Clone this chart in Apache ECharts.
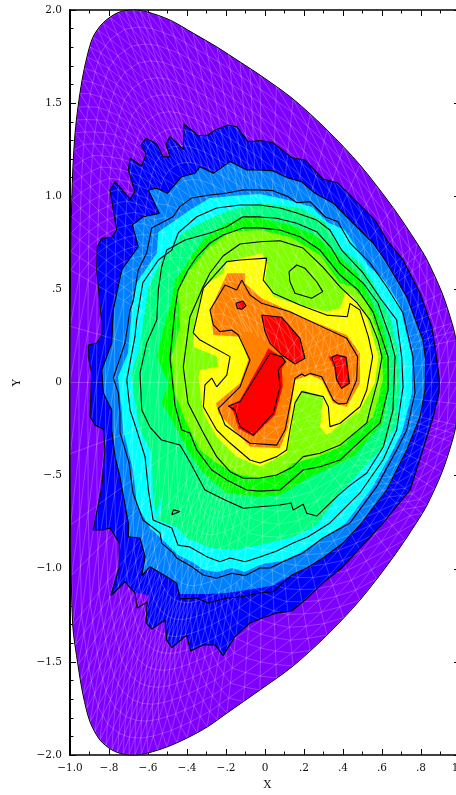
<!DOCTYPE html>
<html>
<head>
<meta charset="utf-8">
<style>html,body{margin:0;padding:0;background:#fff;overflow:hidden}#main{width:456px;height:795px}</style>
<script src="https://cdn.jsdelivr.net/npm/echarts@6/dist/echarts.min.js"></script>
</head>
<body>
<div id="main"></div>
<script>
var xTicks=[-1,-.8,-.6,-.4,-.2,0,.2,.4,.6,.8,1];
var yTicks=[-2,-1.5,-1,-.5,0,.5,1,1.5,2];

var boundary=[[-.677,2],[-.605,1.99],[-.487,1.946],[-.369,1.876],[-.246,1.801],[-.128,1.721],[-.026,1.651],[.144,1.522],[.318,1.356],[.487,1.168],[.656,.94],[.779,.749],[.831,.658],[.908,.481],[.959,.319],[.979,.228],[.99,0],[.979,-.228],[.959,-.319],[.908,-.481],[.831,-.658],[.779,-.749],[.656,-.94],[.487,-1.168],[.318,-1.356],[.144,-1.522],[-.026,-1.651],[-.195,-1.775],[-.297,-1.85],[-.4,-1.909],[-.503,-1.957],[-.6,-1.989],[-.667,-2],[-.728,-1.995],[-.785,-1.973],[-.846,-1.92],[-.897,-1.823],[-.933,-1.678],[-.959,-1.517],[-.986,-1.302],[-.997,-.765],[-1,0],[-.997,.604],[-.995,.803],[-.991,.98],[-.985,1.157],[-.974,1.34],[-.959,1.479],[-.938,1.624],[-.913,1.748],[-.882,1.855],[-.831,1.93],[-.754,1.986]];

// contour lines, outermost first
var line1=[[-.863,.604],[-.86,.729],[-.837,.774],[-.786,.78],[-.761,.819],[-.778,.926],[-.795,1.034],[-.769,1.078],[-.692,.984],[-.667,1.024],[-.701,1.141],[-.692,1.204],[-.632,1.162],[-.61,1.227],[-.636,1.274],[-.61,1.311],[-.555,1.281],[-.522,1.212],[-.487,1.212],[-.508,1.281],[-.487,1.32],[-.419,1.252],[-.415,1.388],[-.342,1.325],[-.291,1.329],[-.256,1.356],[-.188,1.383],[-.145,1.373],[-.086,1.293],[-.026,1.299],[.041,1.288],[.137,1.207],[.205,1.195],[.297,1.093],[.374,1.071],[.47,.971],[.564,.872],[.631,.756],[.708,.658],[.795,.481],[.855,.3],[.872,.192],[.894,.013],[.892,-.056],[.863,-.184],[.81,-.362],[.744,-.577],[.598,-.765],[.487,-.889],[.4,-.989],[.297,-1.077],[.205,-1.168],[.137,-1.227],[.06,-1.238],[-.026,-1.27],[-.077,-1.291],[-.154,-1.365],[-.215,-1.467],[-.256,-1.409],[-.318,-1.409],[-.381,-1.442],[-.402,-1.356],[-.478,-1.424],[-.504,-1.383],[-.513,-1.275],[-.581,-1.324],[-.61,-1.291],[-.604,-1.179],[-.655,-1.211],[-.667,-1.13],[-.718,-1.071],[-.791,-1.145],[-.747,-.989],[-.747,-.862],[-.795,-.781],[-.831,-.792],[-.881,-.792],[-.837,-.559],[-.821,-.362],[-.829,-.251],[-.872,-.228],[-.897,-.184],[-.889,.051],[-.906,.139],[-.906,.201],[-.863,.212],[-.837,.255],[-.837,.319]];
var line2=[[-.786,-.255],[-.786,-.148],[-.829,-.056],[-.837,.067],[-.786,.212],[-.778,.389],[-.735,.604],[-.65,.729],[-.68,.846],[-.624,.89],[-.542,.908],[-.598,1.034],[-.555,1.043],[-.501,1.016],[-.427,1.105],[-.359,1.123],[-.333,1.159],[-.265,1.123],[-.179,1.186],[-.094,1.141],[-.026,1.141],[.041,1.136],[.118,1.098],[.188,1.078],[.256,1.016],[.349,.964],[.451,.856],[.554,.749],[.615,.658],[.727,.461],[.81,.228],[.824,.121],[.821,-.04],[.795,-.184],[.727,-.362],[.624,-.577],[.487,-.765],[.4,-.862],[.297,-.942],[.214,-.996],[.137,-1.034],[.041,-1.123],[-.026,-1.13],[-.119,-1.15],[-.196,-1.157],[-.292,-1.184],[-.35,-1.157],[-.436,-1.162],[-.453,-1.077],[-.504,-1.043],[-.59,-.989],[-.632,-1.037],[-.615,-.935],[-.641,-.835],[-.701,-.828],[-.701,-.754],[-.744,-.506],[-.769,-.398]];
var line3=[[-.744,-.164],[-.752,-.056],[-.778,.024],[-.718,.212],[-.692,.389],[-.675,.443],[-.65,.604],[-.607,.695],[-.581,.83],[-.472,.89],[-.436,.944],[-.376,.991],[-.282,1.007],[-.196,1.017],[-.113,1.034],[-.026,1.034],[.041,1.03],[.118,.998],[.163,.965],[.231,.971],[.308,.89],[.374,.863],[.436,.749],[.538,.642],[.624,.514],[.708,.373],[.759,.137],[.769,-.056],[.727,-.255],[.675,-.362],[.573,-.559],[.436,-.754],[.297,-.835],[.195,-.915],[.092,-.962],[.026,-.996],[-.026,-.996],[-.103,-1.037],[-.171,-1.024],[-.248,-1.051],[-.316,-1.034],[-.376,-.989],[-.453,-.942],[-.472,-.915],[-.53,-.862],[-.538,-.808],[-.626,-.738],[-.677,-.593],[-.697,-.432],[-.744,-.266]];
var line4=[[-.709,.013],[-.667,.246],[-.658,.336],[-.627,.534],[-.547,.658],[-.478,.711],[-.445,.803],[-.35,.89],[-.248,.937],[-.128,.953],[-.026,.953],[.077,.937],[.163,.91],[.265,.872],[.333,.819],[.393,.711],[.503,.588],[.598,.443],[.675,.336],[.701,.137],[.708,-.023],[.675,-.255],[.605,-.416],[.487,-.593],[.333,-.754],[.221,-.828],[.144,-.862],[.06,-.905],[-.026,-.937],[-.103,-.962],[-.179,-.942],[-.231,-.962],[-.299,-.935],[-.385,-.883],[-.446,-.873],[-.478,-.781],[-.574,-.738],[-.598,-.577],[-.615,-.4],[-.658,-.255],[-.692,-.148]];
var line5=[[-.641,.051],[-.607,.212],[-.555,.336],[-.547,.497],[-.53,.62],[-.504,.711],[-.41,.765],[-.282,.803],[-.196,.836],[-.113,.89],[-.026,.889],[.06,.882],[.163,.855],[.265,.81],[.342,.72],[.385,.642],[.503,.534],[.579,.427],[.641,.244],[.667,.137],[.656,-.148],[.607,-.345],[.522,-.486],[.427,-.559],[.368,-.613],[.265,-.717],[.214,-.702],[.196,-.654],[.145,-.685],[.133,-.647],[.077,-.658],[-.026,-.667],[-.111,-.675],[-.205,-.631],[-.308,-.577],[-.385,-.427],[-.436,-.336],[-.53,-.309],[-.59,-.239],[-.632,-.148]];
var line6=[[-.487,.132],[-.462,.389],[-.446,.497],[-.395,.604],[-.35,.674],[-.282,.749],[-.215,.792],[-.113,.83],[-.026,.83],[.077,.819],[.179,.783],[.282,.711],[.385,.577],[.477,.497],[.554,.379],[.598,.244],[.631,.137],[.631,-.04],[.59,-.217],[.538,-.266],[.385,-.416],[.282,-.452],[.196,-.47],[.077,-.577],[-.026,-.583],[-.094,-.577],[-.196,-.523],[-.273,-.47],[-.35,-.362],[-.385,-.271],[-.427,-.255],[-.462,-.121]];
var line7=[[-.419,.083],[-.385,.352],[-.318,.513],[-.282,.588],[-.215,.679],[-.128,.744],[-.026,.756],[.077,.761],[.195,.722],[.297,.62],[.385,.513],[.472,.427],[.538,.336],[.579,.228],[.6,.137],[.579,.013],[.538,-.148],[.522,-.217],[.385,-.336],[.282,-.38],[.196,-.398],[.145,-.452],[.06,-.497],[-.026,-.513],[-.111,-.514],[-.179,-.479],[-.248,-.398],[-.316,-.271],[-.395,-.11]];
var line8=[[-.368,.266],[-.333,.427],[-.316,.507],[-.248,.588],[-.196,.649],[-.128,.658],[.009,.668],[-.009,.55],[.043,.479],[.179,.416],[.316,.362],[.422,.353],[.436,.425],[.487,.389],[.53,.246],[.552,.139],[.522,-.04],[.487,-.13],[.385,-.219],[.333,-.237],[.325,-.13],[.299,-.076],[.188,-.049],[.154,-.11],[.128,-.255],[.111,-.362],[.06,-.398],[-.026,-.432],[-.077,-.416],[-.179,-.325],[-.248,-.255],[-.316,-.13],[-.308,-.013],[-.273,.024],[-.248,-.023],[-.196,.04],[-.179,.139],[-.333,.228]];
var line9=[[-.119,.55],[-.077,.47],[-.017,.425],[.128,.38],[.291,.3],[.419,.237],[.475,.139],[.47,.013],[.419,-.112],[.376,-.115],[.35,-.094],[.291,.031],[.231,.049],[.205,.035],[.188,.046],[.154,.023],[.137,-.076],[.103,-.255],[.06,-.336],[-.077,-.326],[-.205,-.228],[-.239,-.139],[-.128,-.023],[-.077,.121],[-.137,.255],[-.171,.282],[-.231,.273],[-.265,.309],[-.282,.389],[-.256,.434],[-.205,.523],[-.145,.497]];
var lineIsland=[[.123,.595],[.163,.631],[.205,.613],[.265,.541],[.296,.488],[.239,.452],[.154,.479],[.128,.541]];
var lineSmall=[[-.478,-.71],[-.47,-.684],[-.436,-.693]];
var lineRedA=[[-.188,-.126],[-.128,-.103],[.026,.157],[.086,.139],[.103,.112],[.068,.067],[.077,-.023],[.043,-.165],[-.06,-.282],[-.128,-.237],[-.154,-.148]];
var lineRedB=[[-.017,.362],[.086,.35],[.179,.237],[.205,.13],[.154,.099],[.086,.148],[.026,.21],[0,.273]];
var lineRedC=[[.342,.135],[.368,.148],[.415,.135],[.432,-.004],[.393,-.031],[.368,.013],[.359,.085]];
var lineRedD=[[-.149,.425],[-.114,.438],[-.097,.412],[-.119,.393],[-.142,.398]];

// filled bands, they do not sit exactly on the lines
var fillPurplePatch=[[-.667,-1.125],[-.594,-1.145],[-.608,-1.284],[-.655,-1.211]];
var fillMid=[[-.786,-.255],[-.786,-.148],[-.829,-.056],[-.837,.067],[-.786,.212],[-.778,.389],[-.735,.604],[-.65,.729],[-.68,.846],[-.624,.89],[-.542,.908],[-.598,1.034],[-.555,1.043],[-.501,1.016],[-.427,1.105],[-.359,1.123],[-.333,1.159],[-.265,1.123],[-.179,1.186],[-.094,1.141],[-.026,1.141],[.041,1.136],[.118,1.098],[.188,1.078],[.256,1.016],[.349,.964],[.451,.856],[.554,.749],[.615,.658],[.727,.461],[.81,.228],[.824,.121],[.821,-.04],[.795,-.184],[.727,-.362],[.624,-.577],[.487,-.765],[.4,-.862],[.297,-.942],[.214,-.996],[.137,-1.034],[.041,-1.09],[-.026,-1.104],[-.196,-1.13],[-.292,-1.136],[-.436,-1.136],[-.453,-1.077],[-.504,-1.043],[-.59,-.989],[-.632,-1.037],[-.615,-.935],[-.641,-.835],[-.701,-.828],[-.701,-.754],[-.744,-.506],[-.769,-.398]];
var fillCyan=[[-.754,.03],[-.703,.158],[-.683,.389],[-.658,.534],[-.555,.695],[-.547,.808],[-.436,.889],[-.385,.926],[-.282,.991],[-.113,1.007],[-.026,1.012],[.118,.98],[.241,.942],[.318,.862],[.41,.819],[.528,.63],[.61,.55],[.69,.42],[.754,.137],[.754,-.056],[.703,-.266],[.651,-.373],[.549,-.566],[.415,-.754],[.282,-.846],[.179,-.915],[.087,-.958],[-.015,-.975],[-.103,-1.017],[-.169,-.996],[-.246,-1.017],[-.313,-1.007],[-.374,-.964],[-.446,-.926],[-.513,-.856],[-.59,-.781],[-.656,-.658],[-.677,-.47],[-.728,-.255],[-.735,-.148]];
var fillSpring=[[-.684,.051],[-.65,.158],[-.615,.389],[-.6,.497],[-.538,.647],[-.462,.738],[-.426,.803],[-.299,.872],[-.179,.926],[-.026,.964],[.179,.937],[.308,.862],[.385,.725],[.487,.642],[.554,.534],[.641,.352],[.682,.174],[.69,-.02],[.675,-.228],[.605,-.346],[.385,-.593],[.267,-.765],[.144,-.83],[-.026,-.872],[-.164,-.899],[-.282,-.889],[-.4,-.835],[-.453,-.776],[-.555,-.738],[-.574,-.615],[-.581,-.379],[-.641,-.255],[-.675,-.056]];
var fillGreen=[[-.504,.353],[-.477,.443],[-.462,.55],[-.421,.604],[-.374,.685],[-.308,.776],[-.205,.851],[-.128,.883],[-.026,.883],[.128,.846],[.256,.792],[.385,.674],[.472,.588],[.538,.459],[.605,.298],[.631,.174],[.636,-.013],[.605,-.217],[.451,-.4],[.231,-.507],[.077,-.604],[-.026,-.615],[-.196,-.593],[-.316,-.486],[-.376,-.398],[-.478,-.201],[-.53,-.11],[-.496,-.003],[-.555,.139]];
var fillLime=[[-.478,.137],[-.436,.298],[-.446,.497],[-.385,.604],[-.292,.722],[-.179,.808],[-.026,.819],[.128,.781],[.282,.685],[.385,.534],[.451,.513],[.523,.427],[.574,.282],[.6,.158],[.605,.013],[.554,-.185],[.385,-.346],[.267,-.4],[.144,-.432],[.077,-.497],[-.026,-.513],[-.128,-.497],[-.248,-.432],[-.333,-.362],[-.41,-.201],[-.462,-.056]];
var fillYellow=[[.393,.481],[.445,.47],[.522,.353],[.581,.139],[.564,-.003],[.487,-.148],[.316,-.282],[.282,-.239],[.299,-.083],[.195,-.04],[.154,-.094],[.137,-.237],[.111,-.379],[-.026,-.452],[-.145,-.398],[-.248,-.291],[-.316,-.164],[-.342,.031],[-.333,.067],[-.239,.085],[-.248,.139],[-.368,.192],[-.359,.336],[-.316,.514],[-.214,.588],[-.196,.649],[-.017,.694],[.012,.631],[0,.55],[.043,.461],[.179,.416],[.316,.38],[.385,.398],[.41,.47]];
var fillOrange=[[-.193,.586],[-.103,.586],[-.103,.533],[-.017,.452],[.205,.345],[.419,.255],[.487,.157],[.487,-.004],[.419,-.13],[.35,-.112],[.291,.013],[.231,.04],[.154,.013],[.119,-.237],[.077,-.353],[-.077,-.345],[-.239,-.165],[-.251,-.112],[-.128,-.004],[-.086,.121],[-.128,.246],[-.265,.255],[-.282,.389],[-.214,.541]];
var fillRedA=[[-.188,-.126],[-.128,-.094],[0,.148],[.017,.184],[.094,.13],[.111,.112],[.086,.076],[.091,-.023],[.051,-.174],[-.06,-.291],[-.137,-.246],[-.162,-.157]];
var fillRedC=[[.325,.139],[.342,.14],[.368,.152],[.42,.14],[.437,-.004],[.393,-.036],[.364,.013],[.352,.085]];
var fillCyanSliver=[[-.524,-.6],[-.564,-.72],[-.54,-.72]];
var fillCyanSpot=[[-.24,-.74],[-.225,-.735],[-.235,-.725]];

var cPurple='#8000ff',cBlue='#0000ff',cMid='#0080ff',cCyan='#00ffff',cSpring='#00ff80',cGreen='#00ff00',cLime='#80ff00',cYellow='#ffff00',cOrange='#ff8000',cRed='#ff0000';
var fills=[[boundary,cPurple],[line1,cBlue],[fillPurplePatch,cPurple],[fillMid,cMid],[fillCyan,cCyan],[fillSpring,cSpring],[fillCyanSliver,cCyan],[fillCyanSpot,cCyan],[fillGreen,cGreen],[fillLime,cLime],[fillYellow,cYellow],[fillOrange,cOrange],[fillRedA,cRed],[lineRedB,cRed],[fillRedC,cRed],[lineRedD,cRed]];
var contours=[line1,line2,line3,line4,line5,line6,line7,line8,line9,lineIsland,lineSmall,lineRedA,lineRedB,lineRedC,lineRedD];

// triangular mesh, rings shrunk from the boundary
var meshRings=22;
function build_mesh(){
	var spokes=[];
	for(var i=0;i<boundary.length;i++){
		var p=boundary[i],q=boundary[(i+1)%boundary.length];
		spokes.push(p);
		spokes.push([(p[0]+q[0])/2,(p[1]+q[1])/2]);
	}
	var n=spokes.length,out=[];
	function seg(a,b){out.push(a);out.push(b);out.push(['-','-']);}
	for(var r=0;r<meshRings-3;r++){
		var s=1-r/meshRings,t=1-(r+1)/meshRings;
		var step=s<.3?4:(s<.6?2:1);
		for(var j=0;j<n;j+=step){
			var k=(j+step)%n;
			var a=[spokes[j][0]*s,spokes[j][1]*s],b=[spokes[k][0]*s,spokes[k][1]*s];
			var c=[spokes[j][0]*t,spokes[j][1]*t],d=[spokes[k][0]*t,spokes[k][1]*t];
			seg(a,b);
			seg(a,c);
			seg(a,d);
		}
	}
	return out;
}

function tick_label(v){
	if(Math.abs(v)<1e-9) return '0';
	var txt;
	if(Math.abs(v)<1) txt=Math.abs(v).toFixed(1).substr(1);
	else txt=Math.abs(v).toFixed(1);
	return (v<0?'\u2212':'')+txt;
}

var myChart=echarts.init(document.getElementById('main'),null,{renderer:'canvas'});
var labelFont={fontFamily:'DejaVu Serif',fontSize:10.5,color:'#111'};

var series=[{
	type:'custom',
	coordinateSystem:'cartesian2d',
	silent:true,
	clip:false,
	z:1,
	data:fills.map(function(f,i){return [i];}),
	renderItem:function(params,api){
		var f=fills[params.dataIndex];
		return {
			type:'polygon',
			shape:{points:f[0].map(function(p){return api.coord(p);}),smooth:params.dataIndex==0?.3:0},
			style:{fill:f[1]}
		};
	}
},{
	type:'line',
	data:build_mesh(),
	showSymbol:false,
	silent:true,
	z:2,
	connectNulls:false,
	lineStyle:{color:'#fff',width:.8,opacity:.28}
},{
	// outer edge, drawn on top of the mesh
	type:'custom',
	coordinateSystem:'cartesian2d',
	silent:true,
	clip:false,
	z:3,
	data:[[0]],
	renderItem:function(params,api){
		return {
			type:'polygon',
			shape:{points:boundary.map(function(p){return api.coord(p);}),smooth:.3},
			style:{fill:'none',stroke:'#000',lineWidth:1}
		};
	}
}];
contours.forEach(function(c){
	series.push({
		type:'line',
		data:c.concat([c[0]]),
		showSymbol:false,
		silent:true,
		z:3,
		lineStyle:{color:'#000',width:1.1}
	});
});

function x_axis(pos,show){
	return {
		type:'value',position:pos,min:-1,max:1,interval:.2,
		splitLine:{show:false},
		name:show?'X':'',nameLocation:'middle',nameGap:25,
		nameTextStyle:{fontFamily:'DejaVu Serif',fontSize:11,color:'#111',padding:[0,0,0,5]},
		axisLine:{show:true,onZero:false,lineStyle:{color:'#000',width:1.5}},
		axisTick:{show:true,inside:true,length:6,lineStyle:{color:'#000'}},
		minorTick:{show:true,splitNumber:2,length:3.5,lineStyle:{color:'#000'}},
		axisLabel:Object.assign({show:show,formatter:tick_label,margin:8,showMinLabel:true,showMaxLabel:true,hideOverlap:false},labelFont)
	};
}
function y_axis(pos,show){
	return {
		type:'value',position:pos,min:-2,max:2,interval:.5,
		splitLine:{show:false},
		name:show?'Y':'',nameLocation:'middle',nameGap:47,nameRotate:90,
		nameTextStyle:{fontFamily:'DejaVu Serif',fontSize:11,color:'#111'},
		axisLine:{show:true,onZero:false,lineStyle:{color:'#000',width:show?2:1.5}},
		axisTick:{show:true,inside:true,length:6,lineStyle:{color:'#000'}},
		minorTick:{show:true,splitNumber:5,length:3.5,lineStyle:{color:'#000'}},
		axisLabel:Object.assign({show:show,formatter:tick_label,margin:8,showMinLabel:true,showMaxLabel:true,hideOverlap:false},labelFont)
	};
}

myChart.setOption({
	animation:false,
	backgroundColor:'#fff',
	grid:{left:70,top:10,width:390,height:745,containLabel:false,outerBoundsMode:'none'},
	xAxis:[x_axis('bottom',true),x_axis('top',false)],
	yAxis:[y_axis('left',true),y_axis('right',false)],
	series:series
});
</script>
</body>
</html>
